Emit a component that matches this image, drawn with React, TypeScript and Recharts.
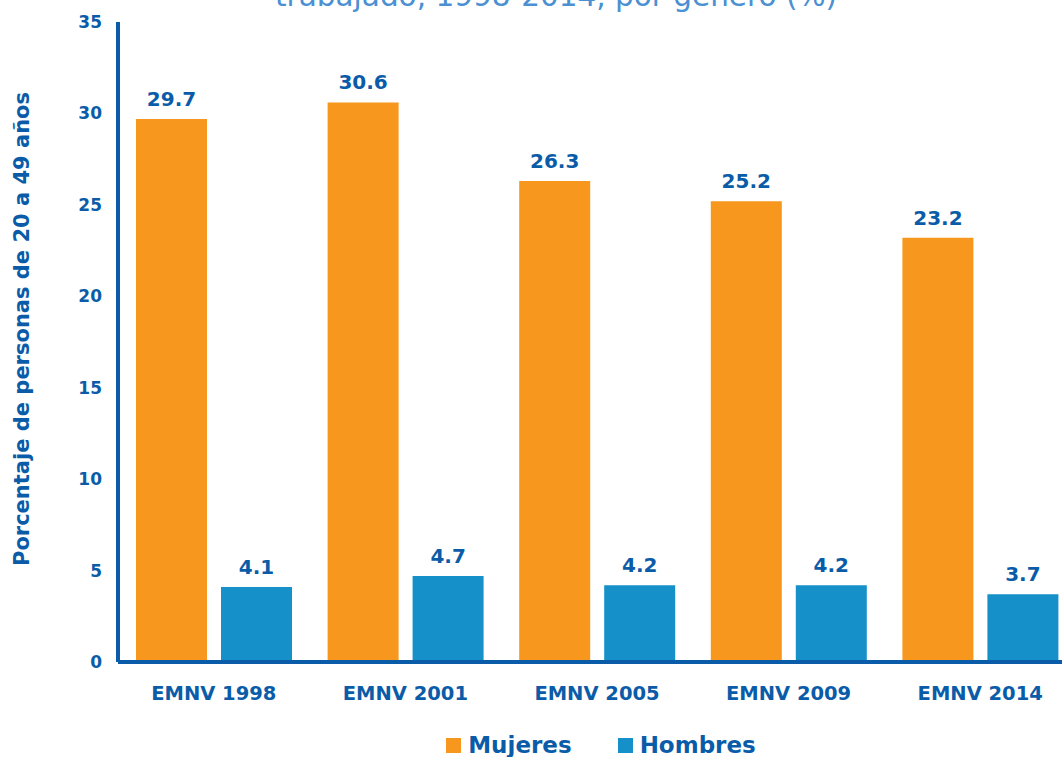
import React from 'react';
import { BarChart, Bar, XAxis, YAxis, LabelList, Legend } from 'recharts';

const categories = ['EMNV 1998', 'EMNV 2001', 'EMNV 2005', 'EMNV 2009', 'EMNV 2014'];
const mujeres = [29.7, 30.6, 26.3, 25.2, 23.2];
const hombres = [4.1, 4.7, 4.2, 4.2, 3.7];
const yTicks = [0, 5, 10, 15, 20, 25, 30, 35];

const data = categories.map((name, i) => ({ name, Mujeres: mujeres[i], Hombres: hombres[i] }));

const navy = '#0B5CA8';
const orange = '#F7971E';
const blue = '#1590C9';
const font = '"DejaVu Sans", sans-serif';

const YLabel = () => (
  <text
    x={22}
    y={329}
    transform="rotate(-90, 22, 329)"
    textAnchor="middle"
    dominantBaseline="central"
    fill={navy}
    fontSize={21}
    fontWeight={700}
    fontFamily={font}
  >
    Porcentaje de personas de 20 a 49 años
  </text>
);

const LegendContent = () => (
  <div style={{ display: 'flex', justifyContent: 'center', gap: 46, fontFamily: font, paddingLeft: 126, paddingTop: 10 }}>
    {[
      { label: 'Mujeres', color: orange },
      { label: 'Hombres', color: blue },
    ].map((it) => (
      <div key={it.label} style={{ display: 'flex', alignItems: 'center', gap: 7 }}>
        <span style={{ width: 15, height: 15, background: it.color, display: 'inline-block' }} />
        <span style={{ color: navy, fontSize: 23, fontWeight: 700 }}>{it.label}</span>
      </div>
    ))}
  </div>
);

export default function App() {
  return (
    <div style={{ position: 'absolute', left: 0, top: 0, width: 1062, height: 757, background: '#fff', overflow: 'hidden' }}>
      <div
        style={{
          position: 'absolute',
          left: 0,
          width: 1112,
          top: -18,
          lineHeight: 1,
          textAlign: 'center',
          fontFamily: font,
          fontSize: 29.5,
          color: '#4A90D2',
          whiteSpace: 'nowrap',
        }}
      >
        trabajado, 1998-2014, por género (%)
      </div>
      <BarChart
        width={1076}
        height={757}
        data={data}
        margin={{ top: 22, right: 0, left: 0, bottom: 0 }}
        barGap={14}
        barCategoryGap={18}
      >
        <XAxis
          dataKey="name"
          axisLine={{ stroke: navy, strokeWidth: 4 }}
          tickLine={false}
          height={60}
          tick={{ fill: navy, fontSize: 19.5, fontWeight: 700, fontFamily: font }}
          tickMargin={18}
        />
        <YAxis
          width={118}
          domain={[0, 35]}
          ticks={yTicks}
          interval={0}
          axisLine={{ stroke: navy, strokeWidth: 4 }}
          tickLine={false}
          tick={{ fill: navy, fontSize: 17, fontWeight: 700, fontFamily: font }}
          tickMargin={10}
          label={<YLabel />}
        />
        <Legend verticalAlign="bottom" height={35} content={<LegendContent />} />
        <Bar dataKey="Mujeres" fill={orange} isAnimationActive={false}>
          <LabelList
            dataKey="Mujeres"
            position="top"
            offset={13}
            fill={navy}
            fontSize={20}
            fontWeight={700}
            fontFamily={font}
            formatter={(v: any) => Number(v).toFixed(1)}
          />
        </Bar>
        <Bar dataKey="Hombres" fill={blue} isAnimationActive={false}>
          <LabelList
            dataKey="Hombres"
            position="top"
            offset={13}
            fill={navy}
            fontSize={20}
            fontWeight={700}
            fontFamily={font}
            formatter={(v: any) => Number(v).toFixed(1)}
          />
        </Bar>
      </BarChart>
    </div>
  );
}
